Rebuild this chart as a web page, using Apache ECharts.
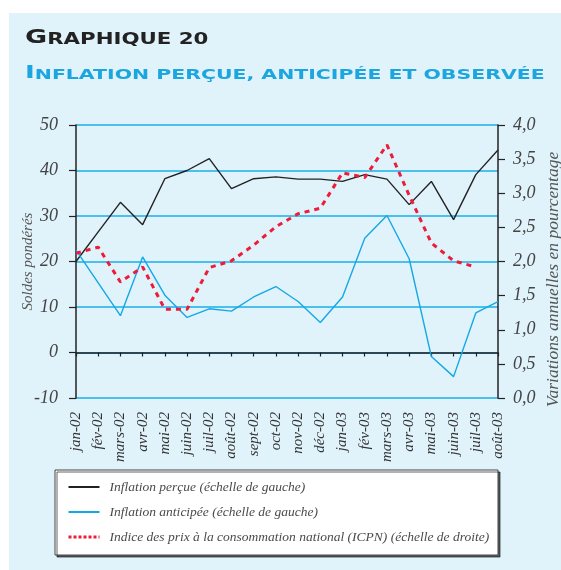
<!DOCTYPE html>
<html>
<head>
<meta charset="utf-8">
<script src="https://cdn.jsdelivr.net/npm/echarts@6/dist/echarts.min.js"></script>
<style>
  html, body { margin: 0; padding: 0; background: #fff; }
  #chart { width: 561px; height: 570px; }
</style>
</head>
<body>
<div id="chart"></div>
<script>
// mois (jan-02 .. août-03)
const months = ['jan-02', 'fév-02', 'mars-02', 'avr-02', 'mai-02', 'juin-02', 'juil-02', 'août-02',
  'sept-02', 'oct-02', 'nov-02', 'déc-02', 'jan-03', 'fév-03', 'mars-03', 'avr-03', 'mai-03',
  'juin-03', 'juil-03', 'août-03'];

// soldes pondérés (échelle de gauche)
const inflationPercue = [20, 26.5, 33, 28.1, 38.2, 40, 42.6, 36, 38.2, 38.6, 38.1, 38.1, 37.6,
  39.1, 38.1, 32.5, 37.6, 29.2, 39.1, 44.5];
const inflationAnticipee = [22.5, 15.3, 8.1, 21, 12.6, 7.7, 9.6, 9.1, 12.2, 14.5, 11.2, 6.6, 12.2,
  25.1, 30.1, 20.6, -0.9, -5.3, 8.7, 11.2];

// ICPN, variations annuelles en % (échelle de droite)
const icpn = [2.12, 2.21, 1.7, 1.92, 1.3, 1.3, 1.91, 2.01, 2.24, 2.51, 2.7, 2.78, 3.3, 3.23, 3.71,
  2.97, 2.27, 2.01, 1.92, null];

const legendNames = [
  'Inflation perçue (échelle de gauche)',
  'Inflation anticipée (échelle de gauche)',
  'Indice des prix à la consommation national (ICPN) (échelle de droite)'
];

const serif = '"Liberation Serif", "DejaVu Serif", serif';
const titleFont = '"DejaVu Sans", sans-serif';
const cyan = '#1aaee8';

const myChart = echarts.init(document.getElementById('chart'));

const option = {
  animation: false,
  graphic: [
    // fond bleu clair
    {
      type: 'rect', z: -10, silent: true,
      shape: { x: 9, y: 13, width: 552, height: 557 },
      style: { fill: '#e0f2fa' }
    },
    // titre
    {
      type: 'text', x: 25, y: 48, scaleX: 1.42, z: 5,
      style: {
        text: '{a|G}{b|RAPHIQUE 20}',
        verticalAlign: 'bottom',
        rich: {
          a: { fontFamily: titleFont, fontWeight: 'bold', fontSize: 19, fill: '#222', verticalAlign: 'bottom' },
          b: { fontFamily: titleFont, fontWeight: 'bold', fontSize: 15, fill: '#222', verticalAlign: 'bottom' }
        }
      }
    },
    {
      type: 'text', x: 25, y: 82, scaleX: 1.46, z: 5,
      style: {
        text: '{a|I}{b|NFLATION PERÇUE, ANTICIPÉE ET OBSERVÉE}',
        verticalAlign: 'bottom',
        rich: {
          a: { fontFamily: titleFont, fontWeight: 'bold', fontSize: 18, fill: '#1ba6e0', verticalAlign: 'bottom' },
          b: { fontFamily: titleFont, fontWeight: 'bold', fontSize: 14, fill: '#1ba6e0', verticalAlign: 'bottom' }
        }
      }
    },
    // cadre de la légende
    {
      type: 'rect', z: 1, silent: true,
      shape: { x: 55, y: 470, width: 443, height: 85 },
      style: {
        fill: '#fff', stroke: '#444', lineWidth: 1,
        shadowColor: 'rgba(0,0,0,0.6)', shadowOffsetX: 2, shadowOffsetY: 2, shadowBlur: 0
      }
    }
  ],
  legend: {
    orient: 'vertical',
    left: 67,
    top: 480,
    itemWidth: 31,
    itemHeight: 14,
    itemGap: 11,
    padding: 0,
    data: [
      { name: legendNames[0] },
      { name: legendNames[1] },
      { name: legendNames[2], lineStyle: { type: [3, 2], width: 3 } }
    ],
    itemStyle: { opacity: 0 },
    textStyle: {
      fontFamily: serif, fontStyle: 'italic', fontSize: 13.5, color: '#4a4a4a',
      padding: [0, 0, 0, 5]
    }
  },
  grid: { left: 76, right: 63, top: 125, bottom: 172, outerBoundsMode: 'none' },
  xAxis: [
    {
      type: 'category',
      data: months,
      boundaryGap: false,
      axisLine: { onZero: true, onZeroAxisIndex: 0, lineStyle: { color: '#222', width: 1.5 } },
      axisTick: { show: true, interval: 0, length: 4, lineStyle: { color: '#222', width: 1.2 } },
      axisLabel: { show: false },
      splitLine: { show: false }
    },
    {
      type: 'category',
      data: months,
      boundaryGap: false,
      position: 'bottom',
      axisLine: { show: false, onZero: false },
      axisTick: { show: false },
      splitLine: { show: false },
      axisLabel: {
        interval: 0, rotate: 90, margin: 14,
        fontFamily: serif, fontStyle: 'italic', fontSize: 15, color: '#333'
      }
    }
  ],
  yAxis: [
    {
      type: 'value',
      min: -10, max: 50, interval: 10,
      name: 'Soldes pondérés',
      nameLocation: 'middle',
      nameGap: 40,
      nameMoveOverlap: false,
      nameTextStyle: { fontFamily: serif, fontStyle: 'italic', fontSize: 15, color: '#555' },
      axisLine: { show: true, lineStyle: { color: '#222', width: 1.5 } },
      axisTick: { show: true, length: 7, lineStyle: { color: '#222', width: 1.2 } },
      axisLabel: {
        margin: 18, fontFamily: serif, fontStyle: 'italic', fontSize: 18, color: '#444'
      },
      splitLine: { show: true, lineStyle: { color: cyan, width: 1.5 } }
    },
    {
      type: 'value',
      min: 0, max: 4, interval: 0.5,
      name: 'Variations annuelles en pourcentage',
      nameLocation: 'middle',
      nameGap: 46,
      nameMoveOverlap: false,
      nameTextStyle: {
        fontFamily: serif, fontStyle: 'italic', fontSize: 17.5, color: '#555',
        padding: [0, 36, 0, 0]
      },
      axisLine: { show: true, lineStyle: { color: '#222', width: 1.5 } },
      axisTick: { show: true, length: 7, lineStyle: { color: '#222', width: 1.2 } },
      axisLabel: {
        margin: 15, fontFamily: serif, fontStyle: 'italic', fontSize: 18, color: '#444',
        formatter: v => v.toFixed(1).replace('.', ',')
      },
      splitLine: { show: false }
    }
  ],
  series: [
    {
      name: legendNames[0],
      type: 'line',
      yAxisIndex: 0,
      data: inflationPercue,
      symbol: 'none',
      lineStyle: { color: '#222', width: 1.4 },
      itemStyle: { color: '#222' },
      z: 3
    },
    {
      name: legendNames[1],
      type: 'line',
      yAxisIndex: 0,
      data: inflationAnticipee,
      symbol: 'none',
      lineStyle: { color: '#13a8e6', width: 1.4 },
      itemStyle: { color: '#13a8e6' },
      z: 3
    },
    {
      name: legendNames[2],
      type: 'line',
      yAxisIndex: 1,
      data: icpn,
      symbol: 'none',
      lineStyle: { color: '#ec1c3a', width: 3, type: [5, 5] },
      itemStyle: { color: '#ec1c3a' },
      z: 4
    }
  ]
};

option && myChart.setOption(option);
</script>
</body>
</html>
